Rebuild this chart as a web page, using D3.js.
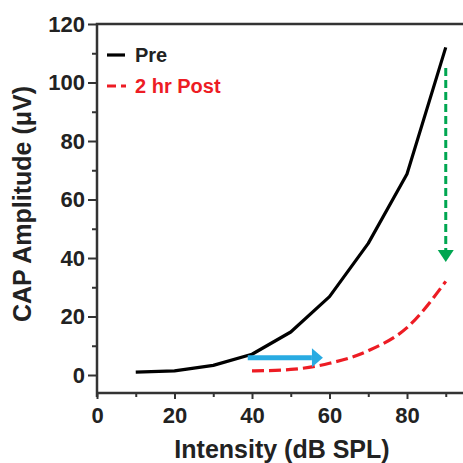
<!DOCTYPE html>
<html>
<head>
<meta charset="utf-8">
<script src="https://cdn.jsdelivr.net/npm/d3@7.9.0/dist/d3.min.js"></script>
<style>
  html, body { margin: 0; padding: 0; background: #fff; }
  svg { display: block; font-family: "Liberation Sans", Arial, sans-serif; font-weight: bold; }
</style>
</head>
<body>
<svg id="chart" width="463" height="463"></svg>
<script>
// data
const intensity = [10, 20, 30, 40, 50, 60, 70, 80, 90];
const preAmp = [1.0, 1.4, 3.3, 7.1, 14.7, 26.8, 45, 68.7, 112];
const postIntensity = [40, 50, 60, 70, 80, 90];
const postAmp = [1.4, 1.9, 4, 8.3, 16.2, 32];

const xMajor = [0, 20, 40, 60, 80];
const xMinor = [10, 30, 50, 70, 90];
const yMajor = [0, 20, 40, 60, 80, 100, 120];
const yMinor = [10, 30, 50, 70, 90, 110];

// threshold shift (blue) and amplitude drop (green) arrows, [x, y] in data units
const shiftArrow = [[38.9, 5.9], [58.3, 5.9]];
const dropArrow = [[90, 105], [90, 38.6]];

const svg = d3.select('#chart');

const x = d3.scaleLinear().domain([0, 94.45]).range([97, 463]);
const y = d3.scaleLinear().domain([-6.15, 120]).range([393, 24]);

const axisColor = '#333';

// y axis
svg.append('g')
  .attr('transform', `translate(${x(0)},0)`)
  .call(d3.axisLeft(y).tickValues(yMajor).tickSize(9).tickPadding(3).tickFormat(d3.format('d')));
svg.append('g')
  .attr('transform', `translate(${x(0)},0)`)
  .call(d3.axisLeft(y).tickValues(yMinor).tickSize(5).tickFormat(''));

// x axis
svg.append('g')
  .attr('transform', `translate(0,${y.range()[0]})`)
  .call(d3.axisBottom(x).tickValues(xMajor).tickSize(6).tickPadding(8).tickFormat(d3.format('d')));
svg.append('g')
  .attr('transform', `translate(0,${y.range()[0]})`)
  .call(d3.axisBottom(x).tickValues(xMinor).tickSize(4).tickFormat(''));

svg.selectAll('.domain').remove();
svg.selectAll('.tick line').attr('stroke', axisColor).attr('stroke-width', 2);
svg.selectAll('.tick text')
  .attr('fill', '#222')
  .style('font-size', '22px')
  .style('font-family', '"Liberation Sans", Arial, sans-serif')
  .style('font-weight', 'bold');

// frame: top, left and bottom lines (picture is cropped on the right)
svg.append('path')
  .attr('d', `M${x.range()[1]},${y(120)}H${x(0)}V${y.range()[0] + 4}`)
  .attr('fill', 'none')
  .attr('stroke', axisColor)
  .attr('stroke-width', 2.5);
svg.append('path')
  .attr('d', `M${x(0)},${y.range()[0]}H${x.range()[1]}`)
  .attr('fill', 'none')
  .attr('stroke', axisColor)
  .attr('stroke-width', 2.5);

// curves
const line = d3.line().x(d => x(d[0])).y(d => y(d[1]));

svg.append('path')
  .datum(d3.zip(intensity, preAmp))
  .attr('d', line)
  .attr('fill', 'none')
  .attr('stroke', '#000')
  .attr('stroke-width', 3.2)
  .attr('stroke-linejoin', 'round');

svg.append('path')
  .datum(d3.zip(postIntensity, postAmp))
  .attr('d', line.curve(d3.curveMonotoneX))
  .attr('fill', 'none')
  .attr('stroke', '#ED1C24')
  .attr('stroke-width', 3.2)
  .attr('stroke-dasharray', '12,5');

// arrows
function arrow(pts, color, width, dash, headW, headL) {
  const [x0, y0] = [x(pts[0][0]), y(pts[0][1])];
  const [x1, y1] = [x(pts[1][0]), y(pts[1][1])];
  const len = Math.hypot(x1 - x0, y1 - y0);
  const ux = (x1 - x0) / len, uy = (y1 - y0) / len;
  const bx = x1 - ux * headL, by = y1 - uy * headL;
  svg.append('line')
    .attr('x1', x0).attr('y1', y0).attr('x2', bx).attr('y2', by)
    .attr('stroke', color).attr('stroke-width', width)
    .attr('stroke-dasharray', dash);
  svg.append('path')
    .attr('d', `M${x1},${y1}L${bx - uy * headW / 2},${by + ux * headW / 2}L${bx + uy * headW / 2},${by - ux * headW / 2}Z`)
    .attr('fill', color);
}
arrow(shiftArrow, '#29ABE2', 5, null, 19, 11);
arrow(dropArrow, '#00A651', 3, '8,4', 16, 12);

// legend
const legend = svg.append('g');
legend.append('line')
  .attr('x1', 107).attr('x2', 125).attr('y1', 55).attr('y2', 55)
  .attr('stroke', '#000').attr('stroke-width', 3.2);
legend.append('text')
  .attr('x', 135).attr('y', 62)
  .attr('fill', '#222')
  .style('font-size', '20px')
  .text('Pre');
legend.append('line')
  .attr('x1', 107).attr('x2', 126).attr('y1', 86).attr('y2', 86)
  .attr('stroke', '#ED1C24').attr('stroke-width', 3.2)
  .attr('stroke-dasharray', '9,5');
legend.append('text')
  .attr('x', 135).attr('y', 93)
  .attr('fill', '#ED1C24')
  .style('font-size', '20px')
  .text('2 hr Post');

// axis titles
svg.append('text')
  .attr('x', 282).attr('y', 458)
  .attr('text-anchor', 'middle')
  .attr('fill', '#222')
  .style('font-size', '25px')
  .text('Intensity (dB SPL)');

svg.append('text')
  .attr('transform', 'translate(31,204) rotate(-90)')
  .attr('text-anchor', 'middle')
  .attr('fill', '#222')
  .style('font-size', '25px')
  .text('CAP Amplitude (μV)');
</script>
</body>
</html>
